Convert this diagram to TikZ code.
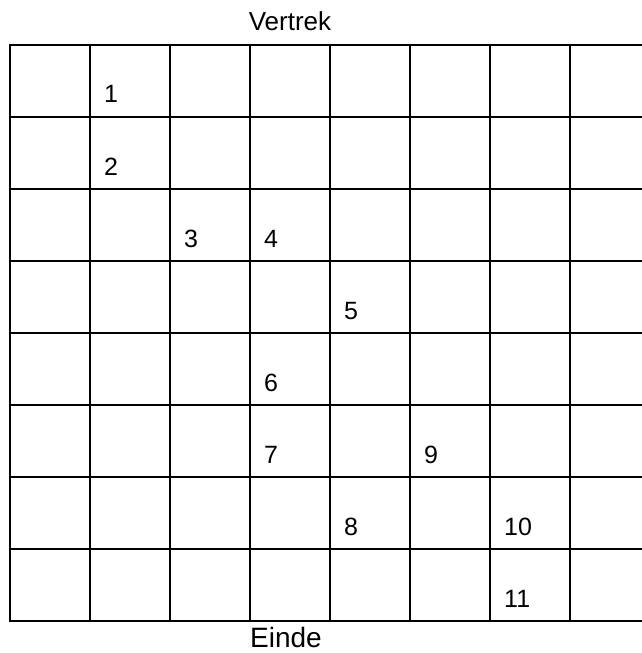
\documentclass[tikz,border=0pt]{standalone}
\usepackage{fontspec}
\setmainfont{Liberation Sans}
\begin{document}
\begin{tikzpicture}[x=1bp,y=-1bp,
  gridline/.style={line width=2bp,line cap=rect},
  num/.style={anchor=base west,inner sep=0pt,font=\fontsize{25bp}{29bp}\selectfont},
  title/.style={anchor=base,inner sep=0pt}]
\useasboundingbox (0,0) rectangle (642,653);
% horizontal lines
\foreach \k in {0,...,8} {
  \draw[gridline] (10,{45+72*\k}) -- (642,{45+72*\k});
}
% vertical lines
\foreach \c in {10,90,170,250,330,410,490,570} {
  \draw[gridline] (\c,45) -- (\c,621);
}
\node[title,font=\fontsize{26bp}{30bp}\selectfont] (vertrek) at (290,31) {Vertrek};
\node[title,font=\fontsize{28bp}{32bp}\selectfont] (einde) at (286,647) {Einde};
% numbers
\node[num] (n1) at (104,103) {1};
\node[num] (n2) at (104,175) {2};
\node[num] (n3) at (184,247) {3};
\node[num] (n4) at (264,247) {4};
\node[num] (n5) at (344,319) {5};
\node[num] (n6) at (264,391) {6};
\node[num] (n7) at (264,463) {7};
\node[num] (n9) at (424,463) {9};
\node[num] (n8) at (344,535) {8};
\node[num] (n10) at (504,535) {10};
\node[num] (n11) at (504,607) {11};
\end{tikzpicture}
\end{document}
